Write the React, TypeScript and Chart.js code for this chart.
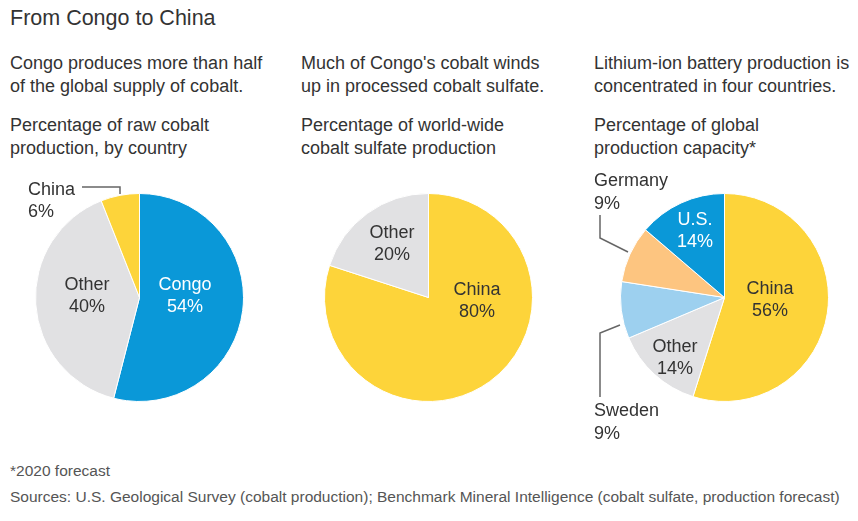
import React, { useEffect, useRef } from "react";
import { Chart, registerables } from "chart.js";

Chart.register(...registerables);

// ---- data ----
const rawLabels = ["Congo", "Other", "China"];
const rawValues = [54, 40, 6];
const sulfateLabels = ["China", "Other"];
const sulfateValues = [80, 20];
const batteryLabels = ["China", "Other", "Sweden", "Germany", "U.S."];
const batteryValues = [56, 14, 9, 9, 14];

// ---- styles ----
const BLUE = "#0a98d8";
const YELLOW = "#fdd43a";
const GREY = "#e1e1e3";
const ORANGE = "#fdc580";
const LIGHTBLUE = "#9dd0ef";
const TEXT = "#333333";
const FONT = "'Liberation Sans', Arial, Helvetica, sans-serif";

type LabelStyle = {
  dx: number;
  dy: number;
  color: string;
  align?: CanvasTextAlign;
  lineGap?: number;
  leader?: number[][];
};

const rawColors = [BLUE, GREY, YELLOW];
const rawLabelStyles: LabelStyle[] = [
  { dx: 45.5, dy: -1.5, color: "#ffffff" },
  { dx: -52.5, dy: -1.5, color: TEXT },
  {
    dx: -111.5,
    dy: -96.5,
    color: TEXT,
    align: "left",
    leader: [
      [-57.5, -110.5],
      [-19.5, -110.5],
      [-19.5, -103.5],
    ],
  },
];

const sulfateColors = [YELLOW, GREY];
const sulfateLabelStyles: LabelStyle[] = [
  { dx: 48.5, dy: 3.5, color: TEXT },
  { dx: -36.5, dy: -53.5, color: TEXT },
];

const batteryColors = [YELLOW, GREY, LIGHTBLUE, ORANGE, BLUE];
const batteryLabelStyles: LabelStyle[] = [
  { dx: 45.5, dy: 2.5, color: TEXT },
  { dx: -49.5, dy: 60.5, color: TEXT },
  {
    dx: -130.5,
    dy: 125,
    color: TEXT,
    align: "left",
    leader: [
      [-124.5, 99.5],
      [-124.5, 35.5],
      [-104.5, 27.5],
    ],
  },
  {
    dx: -130.5,
    dy: -105,
    color: TEXT,
    align: "left",
    leader: [
      [-124.5, -82.5],
      [-124.5, -59.5],
      [-96.5, -45.5],
    ],
  },
  { dx: -29.5, dy: -66.5, color: "#ffffff" },
];

const labelPlugin = {
  id: "sliceLabels",
  afterDraw(chart: any, _args: any, opts: any) {
    const styles: LabelStyle[] = opts.styles || [];
    const meta = chart.getDatasetMeta(0);
    if (!meta.data.length) return;
    const cx = meta.data[0].x;
    const cy = meta.data[0].y;
    const ctx = chart.ctx;
    const labels = chart.data.labels as string[];
    const values = chart.data.datasets[0].data as number[];
    ctx.save();
    styles.forEach((s, i) => {
      if (s.leader) {
        ctx.beginPath();
        ctx.strokeStyle = "#666666";
        ctx.lineWidth = 1.5;
        s.leader.forEach((p, j) => {
          if (j === 0) ctx.moveTo(cx + p[0], cy + p[1]);
          else ctx.lineTo(cx + p[0], cy + p[1]);
        });
        ctx.stroke();
      }
      ctx.font = `18px ${FONT}`;
      ctx.fillStyle = s.color;
      ctx.textAlign = s.align || "center";
      ctx.textBaseline = "middle";
      const gap = s.lineGap ?? 22.5;
      ctx.fillText(labels[i], cx + s.dx, cy + s.dy - gap / 2);
      ctx.fillText(`${values[i]}%`, cx + s.dx, cy + s.dy + gap / 2);
    });
    ctx.restore();
  },
};

type PieProps = {
  labels: string[];
  values: number[];
  colors: string[];
  styles: LabelStyle[];
  left: number;
  width: number;
  cx: number;
};

const TOP = 150;
const HEIGHT = 300;
const CY = 147.5;
const R = 104;

function Pie({ labels, values, colors, styles, left, width, cx }: PieProps) {
  const ref = useRef<HTMLCanvasElement>(null);
  useEffect(() => {
    if (!ref.current) return;
    const chart = new Chart(ref.current, {
      type: "pie",
      data: {
        labels,
        datasets: [
          {
            data: values,
            backgroundColor: colors,
            borderColor: "#ffffff",
            borderWidth: 1,
            radius: R,
          } as any,
        ],
      },
      options: {
        responsive: false,
        animation: false,
        devicePixelRatio: 1,
        layout: {
          padding: {
            left: cx - 106,
            right: width - cx - 106,
            top: CY - 106,
            bottom: HEIGHT - CY - 106,
          },
        },
        plugins: {
          legend: { display: false },
          tooltip: { enabled: false },
          sliceLabels: { styles },
        } as any,
      },
      plugins: [labelPlugin],
    });
    return () => chart.destroy();
  }, []);
  return (
    <canvas
      ref={ref}
      width={width}
      height={HEIGHT}
      style={{ position: "absolute", left, top: TOP, width, height: HEIGHT }}
    />
  );
}

const textBase: React.CSSProperties = {
  position: "absolute",
  fontFamily: FONT,
  color: TEXT,
  fontSize: 18,
  lineHeight: "23px",
  whiteSpace: "nowrap",
};

export default function App() {
  return (
    <div
      style={{
        position: "absolute",
        left: 0,
        top: 0,
        width: 858,
        height: 521,
        background: "#ffffff",
        overflow: "hidden",
      }}
    >
      <div style={{ ...textBase, left: 10, top: 5, fontSize: 21.5, lineHeight: "26px" }}>
        From Congo to China
      </div>

      <div style={{ ...textBase, left: 10, top: 52 }}>
        Congo produces more than half
        <br />
        of the global supply of cobalt.
      </div>
      <div style={{ ...textBase, left: 10, top: 114 }}>
        Percentage of raw cobalt
        <br />
        production, by country
      </div>

      <div style={{ ...textBase, left: 301, top: 52 }}>
        Much of Congo's cobalt winds
        <br />
        up in processed cobalt sulfate.
      </div>
      <div style={{ ...textBase, left: 301, top: 114 }}>
        Percentage of world-wide
        <br />
        cobalt sulfate production
      </div>

      <div style={{ ...textBase, left: 594, top: 52 }}>
        Lithium-ion battery production is
        <br />
        concentrated in four countries.
      </div>
      <div style={{ ...textBase, left: 594, top: 114 }}>
        Percentage of global
        <br />
        production capacity*
      </div>

      <Pie labels={rawLabels} values={rawValues} colors={rawColors} styles={rawLabelStyles} left={0} width={290} cx={139.5} />
      <Pie labels={sulfateLabels} values={sulfateValues} colors={sulfateColors} styles={sulfateLabelStyles} left={290} width={290} cx={138.5} />
      <Pie labels={batteryLabels} values={batteryValues} colors={batteryColors} styles={batteryLabelStyles} left={580} width={278} cx={144.5} />

      <div style={{ ...textBase, left: 10, top: 461, fontSize: 15.5, lineHeight: "20px", color: "#555555" }}>
        *2020 forecast
      </div>
      <div style={{ ...textBase, left: 10, top: 487, fontSize: 15.5, lineHeight: "20px", color: "#555555" }}>
        Sources: U.S. Geological Survey (cobalt production); Benchmark Mineral Intelligence (cobalt sulfate, production forecast)
      </div>
    </div>
  );
}
